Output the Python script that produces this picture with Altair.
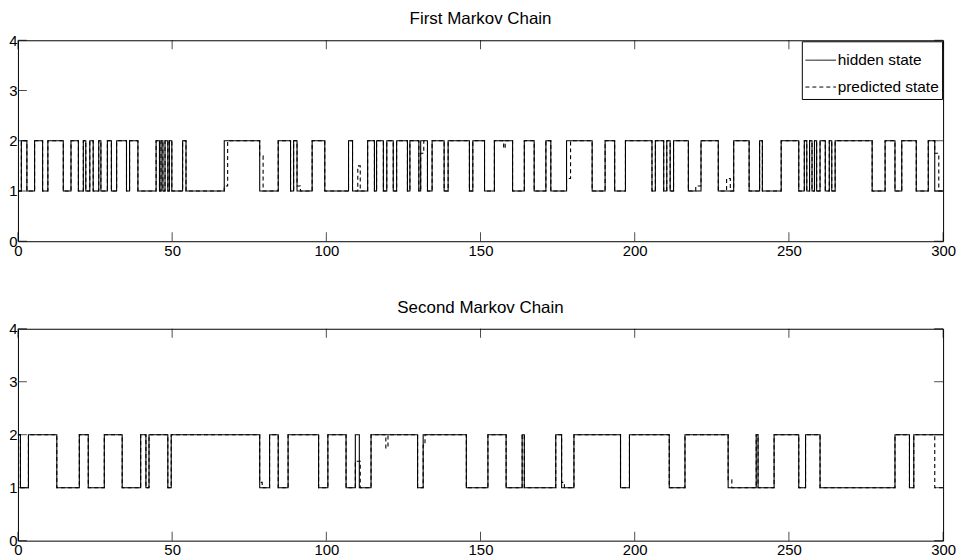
import altair as alt
import pandas as pd

X_TICKS = [0, 50, 100, 150, 200, 250, 300]
Y_TICKS = [0, 1, 2, 3, 4]
SERIES = ["hidden state", "predicted state"]

# ---- First Markov chain: hidden state change points ----
TOP_T = [0, 1.1, 2.9, 5.4, 8.0, 9.7, 14.7, 17.2, 19.6, 21.2, 22.0, 23.3, 24.4, 26.2, 26.9,
         29.0, 30.3, 32.0, 35.2, 36.2, 38.9, 44.8, 45.9, 46.4, 47.0, 47.7, 48.6, 49.1, 49.9,
         53.4, 54.5, 66.9, 78.4, 84.4, 88.4, 89.4, 90.5, 95.4, 99.5, 107.2, 108.5, 113.4,
         115.6, 116.3, 118.5, 119.6, 121.7, 122.8, 126.3, 127.1, 130.0, 130.6, 132.8, 134.3,
         138.2, 139.5, 146.4, 147.5, 151.3, 154.5, 160.4, 164.2, 167.4, 171.2, 172.8, 177.9,
         186.2, 190.4, 193.5, 197.0, 205.6, 206.7, 209.4, 210.4, 211.5, 212.6, 217.4, 221.5,
         227.1, 232.1, 237.1, 240.5, 241.4, 247.5, 253.2, 255.0, 255.8, 256.7, 257.5, 258.3,
         259.0, 260.1, 261.8, 263.1, 263.9, 265.0, 277.0, 281.2, 284.4, 286.6, 291.3, 295.2,
         297.3, 300]
TOP_S = [1, 2, 1, 2, 1, 2, 1, 2, 1, 2, 1, 2, 1, 2, 1,
         2, 1, 2, 1, 2, 1, 2, 1, 2, 1, 2, 1, 2, 1,
         2, 1, 2, 1, 2, 1, 2, 1, 2, 1, 2, 1, 2,
         1, 2, 1, 2, 1, 2, 1, 2, 1, 2, 1, 2,
         1, 2, 1, 2, 1, 2, 1, 2, 1, 2, 1, 2,
         1, 2, 1, 2, 1, 2, 1, 2, 1, 2, 1, 2,
         1, 2, 1, 2, 1, 2, 1, 2, 1, 2, 1, 2,
         1, 2, 1, 2, 1, 2, 1, 2, 1, 2, 1, 2,
         1, 1]
# predicted state where it differs from the hidden state
TOP_DEV_START = [66.9, 78.4, 90.5, 110.2, 130.6, 157.5, 177.9, 219.8, 229.8, 297.3]
TOP_DEV_END = [68.0, 79.5, 91.6, 111.0, 131.6, 158.0, 179.2, 221.5, 231.0, 298.6]
TOP_DEV_VAL = [1.1, 1.7, 1.1, 1.5, 1.75, 1.85, 1.25, 1.1, 1.25, 1.75]

# ---- Second Markov chain ----
BOT_T = [0, 0.8, 3.4, 12.6, 19.9, 22.8, 28.0, 33.8, 39.8, 41.5, 42.5, 48.6, 49.7, 78.4,
         81.6, 84.4, 87.6, 97.5, 100.5, 106.4, 109.4, 110.7, 114.5, 129.6, 131.4, 145.4,
         152.4, 158.3, 163.5, 164.2, 174.4, 176.3, 180.3, 195.4, 198.3, 211.2, 216.3, 230.3,
         239.4, 240.0, 245.2, 253.2, 255.4, 260.1, 284.4, 289.1, 290.5, 300]
BOT_S = [2, 1, 2, 1, 2, 1, 2, 1, 2, 1, 2, 1, 2, 1,
         2, 1, 2, 1, 2, 1, 2, 1, 2, 1, 2, 1,
         2, 1, 2, 1, 2, 1, 2, 1, 2, 1, 2, 1,
         2, 1, 2, 1, 2, 1, 2, 1, 2, 2]
BOT_DEV_START = [78.4, 109.4, 119.3, 131.4, 176.3, 230.3, 297.3]
BOT_DEV_END = [79.2, 111.0, 120.0, 132.0, 177.2, 231.5, 300.5]
BOT_DEV_VAL = [1.1, 1.5, 1.75, 1.8, 1.1, 1.15, 1.0]

W = 930
H_TOP = 202
H_BOT = 213
FONT = "Liberation Sans"


def hidden_at(ts, ss, t):
    v = ss[0]
    for ti, si in zip(ts, ss):
        if ti <= t:
            v = si
        else:
            break
    return v


def build(ts, ss, ds, de, dv):
    rows = [{"t": t, "state": s, "series": SERIES[0], "o": 1} for t, s in zip(ts, ss)]
    pts = sorted(set(ts) | set(d for d in ds if d < 300) | set(d for d in de if d < 300))
    pred = []
    for t in pts:
        val = hidden_at(ts, ss, t)
        for a, b, v in zip(ds, de, dv):
            if a <= t < b:
                val = v
        pred.append([t, val])
    pred[-1][1] = pred[-2][1]
    rows += [{"t": t, "state": v, "series": SERIES[1], "o": 0} for t, v in pred]
    return pd.DataFrame(rows)


def panel(df, title, h, show_legend):
    xs = alt.Scale(domain=[0, 300], nice=False)
    ys = alt.Scale(domain=[0, 4], nice=False)
    legend = alt.Legend(
        title=None, orient="top-right", offset=1, strokeColor="black", fillColor="white",
        padding=3, cornerRadius=0, labelFontSize=15.5, labelFont=FONT, labelColor="black",
        symbolType="stroke", symbolSize=950, symbolStrokeColor="black", symbolStrokeWidth=1,
        rowPadding=2, labelOffset=1,
    ) if show_legend else None
    lines = alt.Chart(df).mark_line(interpolate="step-after", color="black", strokeWidth=1.1).encode(
        x=alt.X("t:Q", scale=xs, axis=alt.Axis(values=X_TICKS, ticks=False, domain=False, grid=False,
                                              labelFontSize=15, labelFont=FONT, labelColor="black",
                                              labelPadding=2, title=None, labelFlush=False, format="d")),
        y=alt.Y("state:Q", scale=ys, axis=alt.Axis(values=Y_TICKS, ticks=False, domain=False, grid=False,
                                                  labelFontSize=15, labelFont=FONT, labelColor="black",
                                                  labelPadding=1, title=None, labelFlush=False, format="d")),
        strokeDash=alt.StrokeDash("series:N", scale=alt.Scale(domain=SERIES, range=[[1, 0], [4, 3]]),
                                  legend=legend),
        order=alt.Order("o:Q"),
        detail="series:N",
    )
    xt = pd.DataFrame({"t": X_TICKS})
    yt = pd.DataFrame({"state": Y_TICKS})
    tb = alt.Chart(xt).mark_tick(orient="vertical", size=9, thickness=1, color="black").encode(
        x=alt.X("t:Q", scale=xs), y=alt.value(h - 4.5))
    tt = alt.Chart(xt).mark_tick(orient="vertical", size=9, thickness=1, color="black").encode(
        x=alt.X("t:Q", scale=xs), y=alt.value(4.5))
    tl = alt.Chart(yt).mark_tick(orient="horizontal", size=9, thickness=1, color="black").encode(
        y=alt.Y("state:Q", scale=ys), x=alt.value(4.5))
    tr = alt.Chart(yt).mark_tick(orient="horizontal", size=9, thickness=1, color="black").encode(
        y=alt.Y("state:Q", scale=ys), x=alt.value(W - 4.5))
    return alt.layer(tb, tt, tl, tr, lines).properties(
        width=W, height=h,
        title=alt.TitleParams(title, fontSize=17, font=FONT, fontWeight="normal", color="black", offset=5),
    )


top_df = build(TOP_T, TOP_S, TOP_DEV_START, TOP_DEV_END, TOP_DEV_VAL)
bot_df = build(BOT_T, BOT_S, BOT_DEV_START, BOT_DEV_END, BOT_DEV_VAL)

chart = alt.vconcat(
    panel(top_df, "First Markov Chain", H_TOP, True),
    panel(bot_df, "Second Markov Chain", H_BOT, False),
    spacing=39,
).resolve_scale(strokeDash="independent").properties(
    padding={"left": 0, "top": 0, "right": 2, "bottom": 0},
    background="white",
).configure_view(stroke="black", strokeWidth=1)

chart.save("out.html", embed_options={"renderer": "svg", "actions": False})
